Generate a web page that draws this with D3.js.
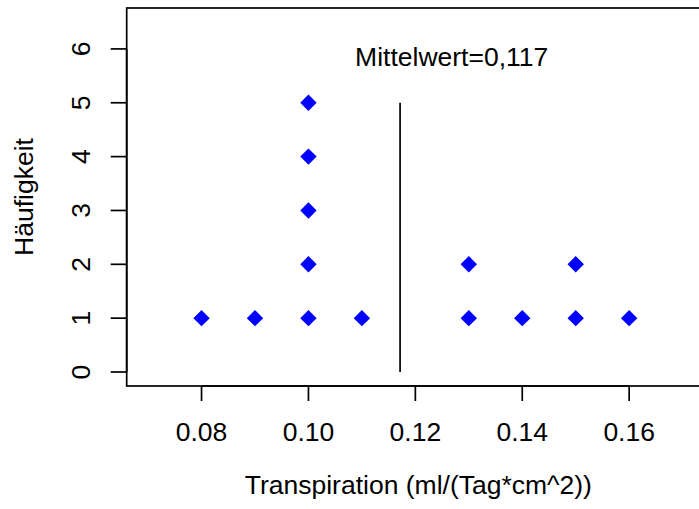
<!DOCTYPE html>
<html lang="de">
<head>
<meta charset="utf-8">
<title>Transpiration</title>
<script src="https://d3js.org/d3.v7.min.js"></script>
<style>
  body { margin: 0; background: #fff; }
  svg text { font-family: "Liberation Sans", Arial, sans-serif; fill: #000; }
</style>
</head>
<body>
<script>
// data: transpiration values and their counts (Häufigkeit)
const transp = [0.08, 0.09, 0.10, 0.10, 0.10, 0.10, 0.10, 0.11, 0.13, 0.13, 0.14, 0.15, 0.15, 0.16];
const haeufigkeit = [1, 1, 1, 2, 3, 4, 5, 1, 1, 2, 1, 1, 2, 1];
const xTicks = [0.08, 0.10, 0.12, 0.14, 0.16];
const yTicks = [0, 1, 2, 3, 4, 5, 6];
const meanLabel = "Mittelwert=0,117";

const width = 699, height = 509;
const fs = 26.5;

const svg = d3.select("body").append("svg")
  .attr("width", width).attr("height", height);

// R style: xlim c(0.07,0.17), ylim c(0,6.5), 4% extension
const x = d3.scaleLinear().domain([0.066, 0.174]).range([126.7, 704]);
const y = d3.scaleLinear().domain([-0.26, 6.76]).range([386, 8]);

const mean = d3.mean(transp);

// box
svg.append("rect")
  .attr("x", x.range()[0]).attr("y", y.range()[1])
  .attr("width", x.range()[1] - x.range()[0])
  .attr("height", y.range()[0] - y.range()[1])
  .attr("fill", "none").attr("stroke", "#000").attr("stroke-width", 1.7);

// x axis
const xa = svg.append("g").attr("transform", `translate(0,${y.range()[0]})`);
xa.append("line").attr("x1", x(0.08)).attr("x2", x(0.16))
  .attr("stroke", "#000").attr("stroke-width", 1.7);
xa.selectAll(".tk").data(xTicks).join("line")
  .attr("x1", d => x(d)).attr("x2", d => x(d))
  .attr("y1", 0).attr("y2", 15)
  .attr("stroke", "#000").attr("stroke-width", 1.7);
xa.selectAll("text").data(xTicks).join("text")
  .attr("x", d => x(d)).attr("y", 55)
  .attr("text-anchor", "middle").attr("font-size", fs)
  .text(d => d3.format(".2f")(d));

// y axis
const ya = svg.append("g").attr("transform", `translate(${x.range()[0]},0)`);
ya.append("line").attr("y1", y(0)).attr("y2", y(6))
  .attr("stroke", "#000").attr("stroke-width", 1.7);
ya.selectAll(".tk").data(yTicks).join("line")
  .attr("y1", d => y(d)).attr("y2", d => y(d))
  .attr("x1", 0).attr("x2", -16)
  .attr("stroke", "#000").attr("stroke-width", 1.7);
ya.selectAll("text").data(yTicks).join("text")
  .attr("transform", d => `translate(-36.7,${y(d)}) rotate(-90)`)
  .attr("text-anchor", "middle").attr("font-size", fs)
  .text(d => d);

// axis titles
svg.append("text")
  .attr("x", (x.range()[0] + x.range()[1]) / 2 + 3).attr("y", 494)
  .attr("text-anchor", "middle").attr("font-size", fs)
  .text("Transpiration (ml/(Tag*cm^2))");
svg.append("text")
  .attr("transform", `translate(33,${(y.range()[0] + y.range()[1]) / 2}) rotate(-90)`)
  .attr("text-anchor", "middle").attr("font-size", fs)
  .text("Häufigkeit");

// mean line
svg.append("line")
  .attr("x1", x(mean)).attr("x2", x(mean))
  .attr("y1", y(0)).attr("y2", y(5))
  .attr("stroke", "#000").attr("stroke-width", 1.7);

svg.append("text")
  .attr("x", x(0.1268)).attr("y", y(5.69))
  .attr("text-anchor", "middle").attr("font-size", fs)
  .text(meanLabel);

// points (pch 18 diamonds)
const r = 8.2;
svg.selectAll(".pt").data(transp.map((t, i) => [t, haeufigkeit[i]])).join("path")
  .attr("class", "pt")
  .attr("transform", d => `translate(${x(d[0])},${y(d[1])})`)
  .attr("d", `M0,${-r}L${r},0L0,${r}L${-r},0Z`)
  .attr("fill", "#0000ff");
</script>
</body>
</html>
